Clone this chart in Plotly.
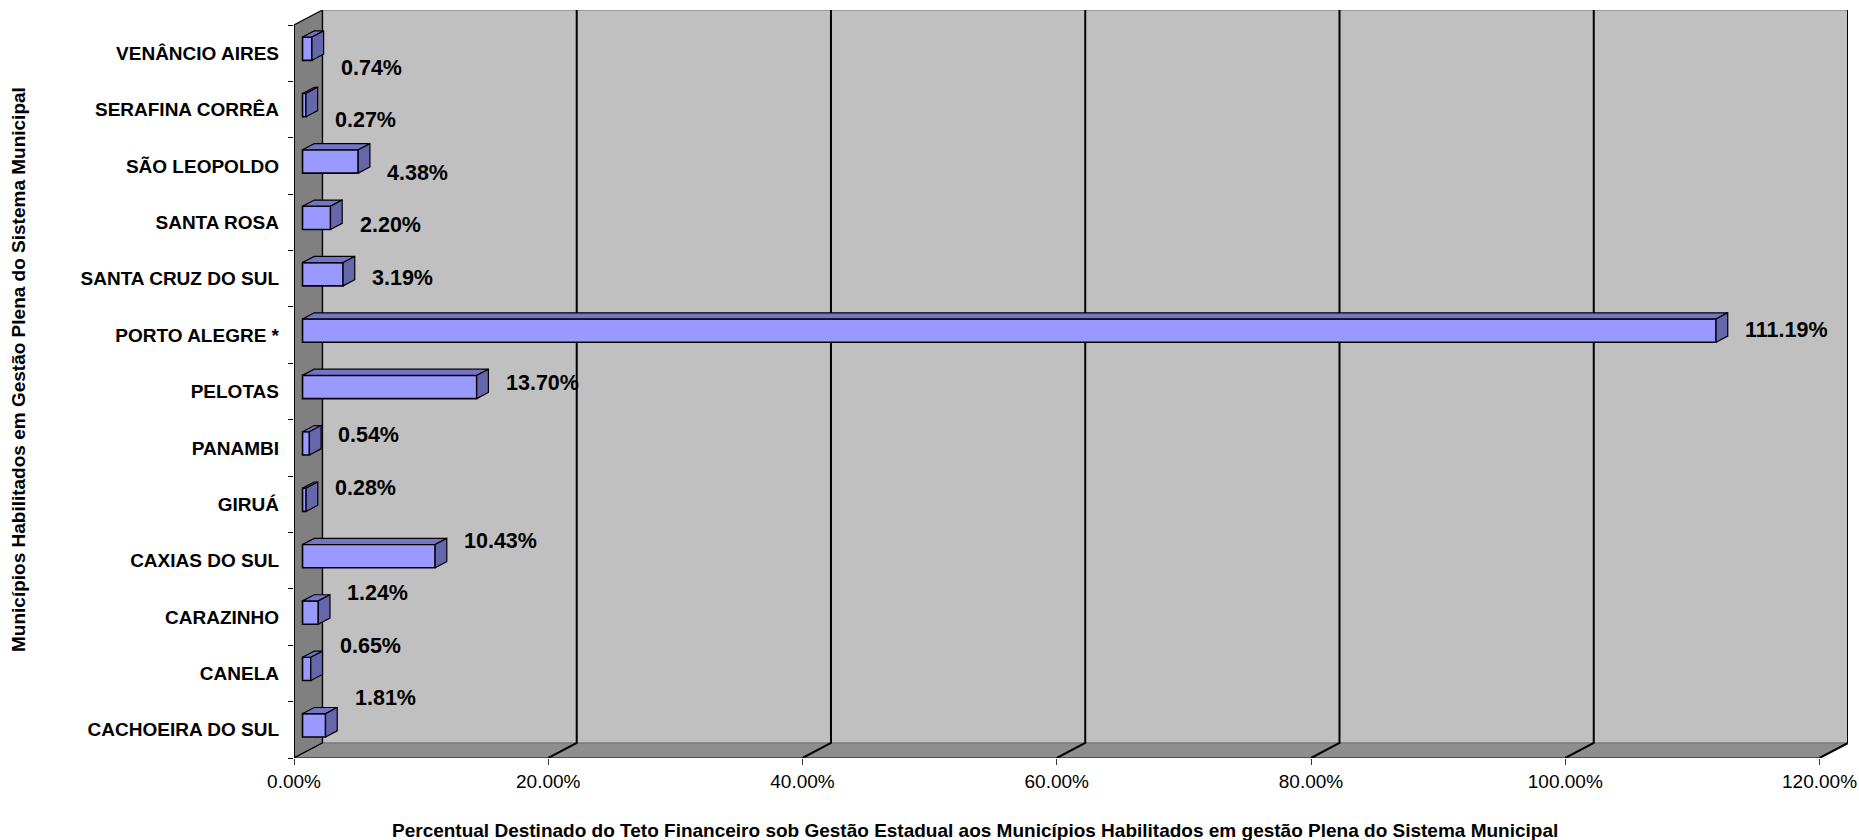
import plotly.graph_objects as go

# Municipalities (bottom to top) and share of the state-managed financial ceiling (%)
municipios = [
    "CACHOEIRA DO SUL", "CANELA", "CARAZINHO", "CAXIAS DO SUL", "GIRUÁ",
    "PANAMBI", "PELOTAS", "PORTO ALEGRE *", "SANTA CRUZ DO SUL",
    "SANTA ROSA", "SÃO LEOPOLDO", "SERAFINA CORRÊA", "VENÂNCIO AIRES",
]
percentual = [1.81, 0.65, 1.24, 10.43, 0.28, 0.54, 13.70, 111.19, 3.19, 2.20, 4.38, 0.27, 0.74]
x_ticks = [0, 20, 40, 60, 80, 100, 120]
x_tick_labels = [f"{t:.2f}%" for t in x_ticks]

x_title = ("Percentual Destinado do Teto Financeiro sob Gestão Estadual aos "
           "Municípios Habilitados em gestão Plena do Sistema Municipal")
y_title = "Municípios Habilitados em Gestão Plena do Sistema Municipal"

# ---- layout / 3-D box geometry (axis units) ----
W, H = 1859, 840
ML, MR, MT, MB = 294, 11, 10, 82
XMAX = x_ticks[-1]
DX = 2.24          # wall depth along the value axis (%)
DY = 0.266         # wall depth along the category axis
n = len(municipios)
Y0, Y1 = -0.5, n - 0.5

BAR_FRONT = 0.30   # depth position of bar front faces
BAR_DEPTH = 0.41   # bar thickness as share of wall depth
BAR_W = 0.413      # bar height in category units
bdx, bdy = BAR_DEPTH * DX, BAR_DEPTH * DY

FONT = "Liberation Sans, Arial, sans-serif"
FRONT_COL = "#9999FF"
TOP_COL = "#7575C6"
SIDE_COL = "#6666AA"

fig = go.Figure()

# front faces of the bars
x_start = BAR_FRONT * DX
y_pos = [i + BAR_FRONT * DY for i in range(n)]
fig.add_trace(go.Bar(
    orientation="h", x=percentual, y=y_pos, base=x_start, width=BAR_W,
    marker=dict(color=FRONT_COL, line=dict(color="black", width=1.6)),
    hoverinfo="skip",
))

# top and side faces, derived from the same values
top_x, top_y, side_x, side_y = [], [], [], []
for yc, v in zip(y_pos, percentual):
    x0, x1 = x_start, x_start + v
    yt, yb = yc + BAR_W / 2, yc - BAR_W / 2
    top_x += [x0, x0 + bdx, x1 + bdx, x1, x0, None]
    top_y += [yt, yt + bdy, yt + bdy, yt, yt, None]
    side_x += [x1, x1 + bdx, x1 + bdx, x1, x1, None]
    side_y += [yb, yb + bdy, yt + bdy, yt, yb, None]

fig.add_trace(go.Scatter(x=top_x, y=top_y, mode="lines", fill="toself",
                         fillcolor=TOP_COL, line=dict(color="black", width=1.2),
                         hoverinfo="skip"))
fig.add_trace(go.Scatter(x=side_x, y=side_y, mode="lines", fill="toself",
                         fillcolor=SIDE_COL, line=dict(color="black", width=1.2),
                         hoverinfo="skip"))

# value labels (their vertical spacing follows the projected label plane)
for i, v in enumerate(percentual):
    fig.add_annotation(
        x=x_start + v, y=0.56 + 0.932 * i, xref="x", yref="y",
        text=f"<b>{v:.2f}%</b>", showarrow=False, xanchor="left", yanchor="middle",
        xshift=27, font=dict(family=FONT, size=21.5, color="black"),
    )

# ---- walls, floor and gridlines ----
shapes = []
# back wall
shapes.append(dict(type="rect", xref="x", yref="y", x0=DX, x1=XMAX + DX,
                   y0=Y0 + DY, y1=Y1 + DY, fillcolor="#C0C0C0",
                   line=dict(width=0), layer="below"))
shapes.append(dict(type="line", xref="x", yref="y", x0=DX, x1=XMAX + DX,
                   y0=Y1 + DY, y1=Y1 + DY, line=dict(color="#9A9A9A", width=2),
                   layer="below"))
# left side wall
shapes.append(dict(type="path", xref="x", yref="y",
                   path=f"M 0,{Y0} L {DX},{Y0 + DY} L {DX},{Y1 + DY} L 0,{Y1} Z",
                   fillcolor="#808080", line=dict(color="black", width=1.2),
                   layer="below"))
# floor
shapes.append(dict(type="path", xref="x", yref="y",
                   path=f"M 0,{Y0} L {XMAX},{Y0} L {XMAX + DX},{Y0 + DY} L {DX},{Y0 + DY} Z",
                   fillcolor="#8E8E8E", line=dict(width=0), layer="below"))
shapes.append(dict(type="line", xref="x", yref="y", x0=DX, x1=XMAX + DX,
                   y0=Y0 + DY, y1=Y0 + DY, line=dict(color="#7A7A7A", width=1.5),
                   layer="below"))
shapes.append(dict(type="line", xref="x", yref="y", x0=0, x1=XMAX,
                   y0=Y0, y1=Y0, line=dict(color="#3A3A3A", width=1.5),
                   layer="below"))
# gridlines running across the floor and up the back wall
for t in x_ticks:
    shapes.append(dict(type="path", xref="x", yref="y",
                       path=f"M {t},{Y0} L {t + DX},{Y0 + DY} L {t + DX},{Y1 + DY}",
                       line=dict(color="black", width=2 if t > 0 else 1.2),
                       layer="below"))
# front edge of the category axis
shapes.append(dict(type="line", xref="x", yref="y", x0=0, x1=0, y0=Y0, y1=Y1,
                   line=dict(color="black", width=1.6), layer="below"))

fig.update_layout(
    width=W, height=H, autosize=False,
    margin=dict(l=ML, r=MR, t=MT, b=MB, pad=0, autoexpand=False),
    paper_bgcolor="white", plot_bgcolor="white",
    showlegend=False, shapes=shapes,
    font=dict(family=FONT, color="black"),
    xaxis=dict(
        range=[0, XMAX + DX], showgrid=False, zeroline=False, showline=False,
        tickmode="array", tickvals=x_ticks, ticktext=x_tick_labels,
        ticks="outside", ticklen=6, tickwidth=1, tickcolor="#3A3A3A",
        tickfont=dict(family=FONT, size=19, color="black"), fixedrange=True,
        automargin=False,
    ),
    yaxis=dict(
        range=[Y0, Y1 + DY], showgrid=False, zeroline=False, showline=False,
        tickmode="array", tickvals=list(range(n)), ticktext=municipios,
        ticks="", ticklabelstandoff=14,
        tickfont=dict(family=FONT, size=19, color="black", weight="bold"),
        minor=dict(tickmode="array", tickvals=[k - 0.5 for k in range(n + 1)],
                   ticks="outside", ticklen=5, tickwidth=1, tickcolor="black",
                   showgrid=False),
        fixedrange=True, automargin=False,
    ),
)

# axis titles
fig.add_annotation(text=f"<b>{x_title}</b>", xref="paper", yref="paper",
                   x=(975 - ML) / (W - ML - MR), y=-(830 - (H - MB)) / (H - MT - MB),
                   showarrow=False, xanchor="center", yanchor="middle",
                   font=dict(family=FONT, size=19, color="black"))
fig.add_annotation(text=f"<b>{y_title}</b>", xref="paper", yref="paper",
                   x=(18 - ML) / (W - ML - MR), y=((H - MB) - 370) / (H - MT - MB),
                   textangle=-90, showarrow=False, xanchor="center", yanchor="middle",
                   font=dict(family=FONT, size=19, color="black"))

fig.write_html("out.html")
